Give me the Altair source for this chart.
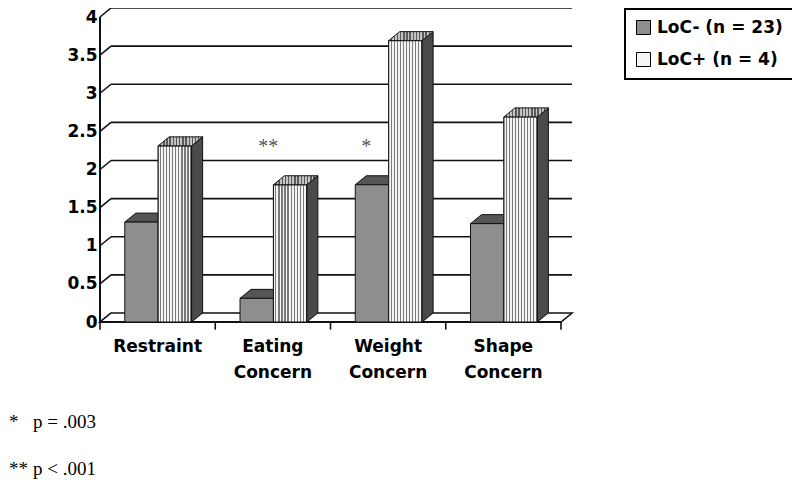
import altair as alt
import pandas as pd

# ---- data ----
categories = ["Restraint", "Eating\nConcern", "Weight\nConcern", "Shape\nConcern"]
series = ["LoC- (n = 23)", "LoC+ (n = 4)"]
loc_minus = [1.31, 0.31, 1.80, 1.29]
loc_plus = [2.31, 1.80, 3.69, 2.69]
y_ticks = [0, 0.5, 1, 1.5, 2, 2.5, 3, 3.5, 4]
star_labels = ["**", "*"]
star_x = [1.46, 2.31]
star_y = [2.30, 2.30]
foot_marks = ["*", "**"]
foot_texts = ["p = .003", "p < .001"]

# ---- geometry (pixels per unit, 3D depth) ----
PX_X = 115.25
PX_Y = 76.25
DX = 11 / PX_X
DY = 9 / PX_Y
W = round((4 + DX) * PX_X)
H = round((4 + DY) * PX_Y)
slot = {series[0]: (0.215, 0.505), series[1]: (0.505, 0.795)}

xs = alt.Scale(domain=[0, 4 + DX], nice=False, zero=False)
ys = alt.Scale(domain=[0, 4 + DY], nice=False, zero=False)
yaxis = alt.Axis(values=y_ticks, format="~g", ticks=False, tickSize=0, domain=False,
                 grid=False, labelFont="DejaVu Sans", labelFontWeight="bold",
                 labelFontSize=17, labelColor="black", labelPadding=3,
                 labelFlush=False, title=None)

# ---- tables ----
bars, side, top = [], [], []
for s, vals in zip(series, [loc_minus, loc_plus]):
    a, b = slot[s]
    for i, v in enumerate(vals):
        bid = f"{s}-{i}"
        x0, x1 = i + a, i + b
        bars.append(dict(id=bid, series=s, x0=x0, x1=x1, v=v, base=0.0))
        side.append(dict(id=bid, series=s, xs=x1, yt=v, yb=0.0))
        side.append(dict(id=bid, series=s, xs=x1 + DX, yt=v + DY, yb=DY))
        top.append(dict(id=bid, series=s, yy=v, xa=x0, xb=x1))
        top.append(dict(id=bid, series=s, yy=v + DY, xa=x0 + DX, xb=x1 + DX))
bars = pd.DataFrame(bars)
side = pd.DataFrame(side)
top = pd.DataFrame(top)

grid = pd.DataFrame(dict(v=[t + DY for t in y_ticks if t > 0], xa=DX, xb=4 + DX))
conn = pd.DataFrame(dict(xa=0.0, xb=DX, ya=y_ticks, yb=[t + DY for t in y_ticks]))
floor = pd.DataFrame(dict(id="floor", yy=[0.0, DY], xa=[0.0, DX], xb=[4.0, 4 + DX]))
ticks = pd.DataFrame(dict(x=[0, 1, 2, 3, 4], ya=0.0, yb=-0.1))
yline = pd.DataFrame(dict(x=[0.0], ya=[0.0], yb=[4.0]))
cats = pd.DataFrame(dict(x=[i + 0.5 for i in range(len(categories))], label=categories))
stars = pd.DataFrame(dict(x=star_x, y=star_y, t=star_labels))


def stripes(n, light, dark, frac):
    st = []
    for k in range(n):
        a = k / n
        m = (k + frac) / n
        b = (k + 1) / n
        st += [alt.GradientStop(offset=a, color=light), alt.GradientStop(offset=m, color=light),
               alt.GradientStop(offset=m, color=dark), alt.GradientStop(offset=b, color=dark)]
    return alt.LinearGradient(gradient="linear", stops=st, x1=0, x2=1, y1=0, y2=0)


front_stripes = stripes(11, "#f4f4f4", "#7a7a7a", 0.62)
top_stripes = stripes(14, "#c4c4c4", "#5a5a5a", 0.55)

L = "#111111"

g_grid = alt.Chart(grid).mark_rule(color=L, strokeWidth=1.6).encode(
    x=alt.X("xa:Q", scale=xs, axis=None), x2="xb:Q",
    y=alt.Y("v:Q", scale=ys, axis=yaxis))
g_conn = alt.Chart(conn).mark_rule(color=L, strokeWidth=1.6).encode(
    x=alt.X("xa:Q", scale=xs, axis=None), x2="xb:Q",
    y=alt.Y("ya:Q", scale=ys, axis=yaxis), y2="yb:Q")
g_floor = alt.Chart(floor).mark_area(orient="horizontal", fill="white", stroke=L,
                                     strokeWidth=1.6).encode(
    y=alt.Y("yy:Q", scale=ys, axis=yaxis),
    x=alt.X("xa:Q", scale=xs, axis=None, stack=None), x2="xb:Q", detail="id:N")
g_yline = alt.Chart(yline).mark_rule(color=L, strokeWidth=2).encode(
    x=alt.X("x:Q", scale=xs, axis=None), y=alt.Y("ya:Q", scale=ys, axis=yaxis), y2="yb:Q")
g_ticks = alt.Chart(ticks).mark_rule(color=L, strokeWidth=1.6).encode(
    x=alt.X("x:Q", scale=xs, axis=None), y=alt.Y("ya:Q", scale=ys, axis=yaxis), y2="yb:Q")
g_floor_front = alt.Chart(floor.iloc[:1]).mark_rule(color=L, strokeWidth=2).encode(
    x=alt.X("xa:Q", scale=xs, axis=None), x2="xb:Q", y=alt.Y("yy:Q", scale=ys, axis=yaxis))


def side_layer(s, color):
    return alt.Chart(side[side.series == s]).mark_area(
        orient="vertical", fill=color, stroke=L, strokeWidth=1).encode(
        x=alt.X("xs:Q", scale=xs, axis=None),
        y=alt.Y("yt:Q", scale=ys, axis=yaxis, stack=None), y2="yb:Q", detail="id:N")


def top_layer(s, fill):
    return alt.Chart(top[top.series == s]).mark_area(
        orient="horizontal", fill=fill, stroke=L, strokeWidth=1).encode(
        y=alt.Y("yy:Q", scale=ys, axis=yaxis),
        x=alt.X("xa:Q", scale=xs, axis=None, stack=None), x2="xb:Q", detail="id:N")


g_front = alt.Chart(bars).mark_bar(stroke=L, strokeWidth=1).encode(
    x=alt.X("x0:Q", scale=xs, axis=None), x2="x1:Q",
    y=alt.Y("v:Q", scale=ys, axis=yaxis), y2="base:Q",
    fill=alt.Fill("series:N", scale=alt.Scale(domain=series, range=["#8e8e8e", "#f4f4f4"]),
                  legend=alt.Legend(title=None, orient="none", legendX=525, legendY=1,
                                    symbolType="square", symbolSize=196,
                                    symbolStrokeColor="black", symbolStrokeWidth=1,
                                    labelFont="DejaVu Sans", labelFontWeight="bold",
                                    labelFontSize=17, labelColor="black",
                                    padding=10, rowPadding=13, symbolOffset=0,
                                    labelOffset=5, strokeColor="black",
                                    fillColor="white")))
g_front_plus = alt.Chart(bars[bars.series == series[1]]).mark_bar(
    fill=front_stripes, stroke=L, strokeWidth=1).encode(
    x=alt.X("x0:Q", scale=xs, axis=None), x2="x1:Q",
    y=alt.Y("v:Q", scale=ys, axis=yaxis), y2="base:Q")

g_cats = alt.Chart(cats).mark_text(font="DejaVu Sans", fontWeight="bold", fontSize=17,
                                   color="black", align="center", baseline="alphabetic",
                                   lineBreak="\n", lineHeight=26).encode(
    x=alt.X("x:Q", scale=xs, axis=None), y=alt.value(344), text="label:N")
g_stars = alt.Chart(stars).mark_text(font="Liberation Serif", fontSize=20, color="#555555",
                                     align="center", baseline="middle").encode(
    x=alt.X("x:Q", scale=xs, axis=None), y=alt.Y("y:Q", scale=ys, axis=yaxis), text="t:N")

foot = []
for k, (m, t) in enumerate(zip(foot_marks, foot_texts)):
    yb = 420 + 47 * k
    foot.append(alt.Chart(pd.DataFrame(dict(t=[m]))).mark_text(
        font="Liberation Serif", fontSize=19, color="black", align="left",
        baseline="alphabetic").encode(x=alt.value(-91), y=alt.value(yb), text="t:N"))
    foot.append(alt.Chart(pd.DataFrame(dict(t=[t]))).mark_text(
        font="Liberation Serif", fontSize=19, color="black", align="left",
        baseline="alphabetic").encode(x=alt.value(-67), y=alt.value(yb), text="t:N"))

chart = alt.layer(
    g_grid, g_conn, g_floor, g_floor_front, g_ticks,
    side_layer(series[0], "#4a4a4a"), top_layer(series[0], "#555555"),
    g_front, g_front_plus,
    side_layer(series[1], "#4a4a4a"), top_layer(series[1], top_stripes),
    g_yline, g_cats, g_stars, *foot
).properties(
    width=W, height=H, autosize=alt.AutoSizeParams(type="none"),
    padding={"left": 92, "top": 0, "right": 800 - 16 - 92 - W, "bottom": 488 - 16 - H}
).configure_view(stroke=None).configure_legend(strokeWidth=2)

chart.save("out.html", embed_options={"renderer": "svg", "actions": False})
